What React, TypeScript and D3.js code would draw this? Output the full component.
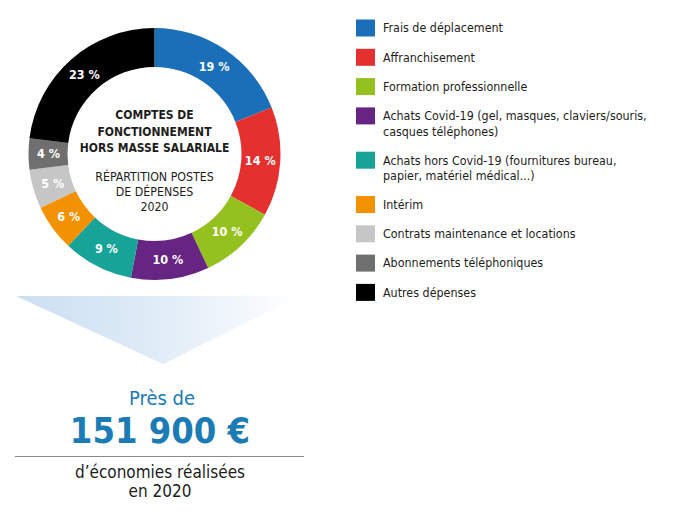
import * as d3 from "d3";

// postes de dépenses (ordre horaire depuis midi)
const categories = [
  "Frais de déplacement",
  "Affranchisement",
  "Formation professionnelle",
  "Achats Covid-19 (gel, masques, claviers/souris, casques téléphones)",
  "Achats hors Covid-19 (fournitures bureau, papier, matériel médical...)",
  "Intérim",
  "Contrats maintenance et locations",
  "Abonnements téléphoniques",
  "Autres dépenses",
];
const legendLines = [
  ["Frais de déplacement"],
  ["Affranchisement"],
  ["Formation professionnelle"],
  ["Achats Covid-19 (gel, masques, claviers/souris,", "casques téléphones)"],
  ["Achats hors Covid-19 (fournitures bureau,", "papier, matériel médical...)"],
  ["Intérim"],
  ["Contrats maintenance et locations"],
  ["Abonnements téléphoniques"],
  ["Autres dépenses"],
];
const shares = [19, 14, 10, 10, 9, 6, 5, 4, 23];
const colors = [
  "#1a6fb8",
  "#e4312f",
  "#95c11f",
  "#662483",
  "#17a398",
  "#f39200",
  "#c6c6c6",
  "#6f6f6f",
  "#000000",
];

const titleLines = ["COMPTES DE", "FONCTIONNEMENT", "HORS MASSE SALARIALE"];
const subtitleLines = ["RÉPARTITION POSTES", "DE DÉPENSES", "2020"];

const font = "'DejaVu Sans Condensed', 'DejaVu Sans', sans-serif";

export default function App() {
  const cx = 154.5;
  const cy = 154;
  const outerR = 126;
  const innerR = 87;

  const pie = d3
    .pie<number>()
    .sort(null)
    .value((d) => d);
  const arcs = pie(shares);
  const arc = d3.arc<d3.PieArcDatum<number>>().innerRadius(innerR).outerRadius(outerR);
  const labelArc = d3
    .arc<d3.PieArcDatum<number>>()
    .innerRadius(106)
    .outerRadius(106);

  // legend row positions
  let y = 28;
  const rows = legendLines.map((lines) => {
    const r = { y, lines };
    y += 29.3 + (lines.length - 1) * 15;
    return r;
  });

  return (
    <svg
      width={700}
      height={520}
      style={{ position: "absolute", left: 0, top: 0, background: "#fff" }}
      fontFamily={font}
    >
      <defs>
        <linearGradient id="fade" x1="0" y1="0" x2="1" y2="0">
          <stop offset="0" stopColor="#cbdff1" />
          <stop offset="0.5" stopColor="#e0ecf7" />
          <stop offset="1" stopColor="#ffffff" />
        </linearGradient>
      </defs>

      <g transform={`translate(${cx},${cy})`}>
        {arcs.map((a, i) => (
          <path key={categories[i]} d={arc(a) ?? ""} fill={colors[i]} />
        ))}
        {arcs.map((a, i) => {
          const [lx, ly] = labelArc.centroid(a);
          return (
            <text
              key={"l" + i}
              x={lx}
              y={ly}
              dy="0.35em"
              textAnchor="middle"
              fill="#fff"
              fontWeight="bold"
              fontSize={12.5}
            >
              {shares[i]} %
            </text>
          );
        })}
        {titleLines.map((t, i) => (
          <text
            key={t}
            x={0}
            y={-39 + i * 16.5}
            dy="0.35em"
            textAnchor="middle"
            fontWeight="bold"
            fontSize={12}
            fill="#1d1d1b"
          >
            {t}
          </text>
        ))}
        {subtitleLines.map((t, i) => (
          <text
            key={t}
            x={0}
            y={23 + i * 15}
            dy="0.35em"
            textAnchor="middle"
            fontSize={12.3}
            fill="#1d1d1b"
          >
            {t}
          </text>
        ))}
      </g>

      <g>
        {rows.map((r, i) => (
          <g key={"lg" + i}>
            <rect x={356} y={r.y - 8.5} width={19} height={17} fill={colors[i]} />
            {r.lines.map((line, j) => (
              <text
                key={line}
                x={383}
                y={r.y + j * 15.5}
                dy="0.35em"
                fontSize={12.4}
                fill="#1d1d1b"
              >
                {line}
              </text>
            ))}
          </g>
        ))}
      </g>

      <path d="M16,296 L300,296 L163,364 Z" fill="url(#fade)" />

      <text x={162} y={398} dy="0.35em" textAnchor="middle" fontSize={20} fill="#1b7bb4">
        Près de
      </text>
      <text
        x={160}
        y={430}
        dy="0.35em"
        textAnchor="middle"
        fontSize={36}
        fontWeight="bold"
        fill="#1b7bb4"
      >
        151 900 €
      </text>
      <line x1={15} x2={304} y1={456.5} y2={456.5} stroke="#8a8a8a" strokeWidth={1} />
      <text x={160} y={472} dy="0.35em" textAnchor="middle" fontSize={17} fill="#1d1d1b">
        d’économies réalisées
      </text>
      <text x={160} y={491} dy="0.35em" textAnchor="middle" fontSize={17} fill="#1d1d1b">
        en 2020
      </text>
    </svg>
  );
}
